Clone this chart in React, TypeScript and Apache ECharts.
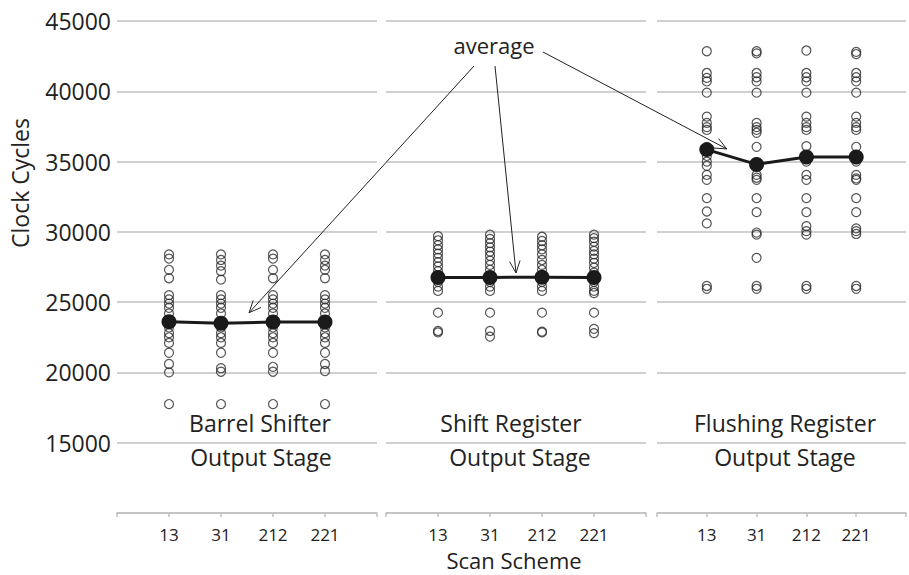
import React, { useEffect, useRef } from "react";
import * as echarts from "echarts";

const schemes = ["13", "31", "212", "221"];
const yTicks = [15000, 20000, 25000, 30000, 35000, 40000, 45000];

const barrel13 = [28400, 28100, 27300, 26700, 25500, 25200, 24900, 24600, 24200, 23200, 22800, 22500, 22100, 21400, 20600, 20000, 17750];
const barrel31 = [28400, 28000, 27600, 27200, 26600, 25500, 25200, 24900, 24600, 24200, 23200, 22800, 22500, 22100, 21400, 20300, 20050, 17750];
const barrel212 = [28400, 28100, 27300, 26700, 25500, 25200, 24900, 24600, 24200, 23200, 22800, 22500, 22100, 21400, 20400, 20050, 17750];
const barrel221 = [28400, 28000, 27600, 27300, 26700, 25500, 25200, 24900, 24600, 24200, 23200, 22800, 22500, 22100, 21400, 20600, 20100, 17750];
const barrelAvg = [23600, 23500, 23580, 23580];

const shift13 = [29700, 29400, 29050, 28750, 28450, 28150, 27850, 27550, 27200, 26450, 26100, 25800, 24250, 22950, 22850];
const shift31 = [29800, 29500, 29200, 28900, 28600, 28300, 27950, 27650, 27300, 26450, 26100, 25800, 24250, 22950, 22550];
const shift212 = [29650, 29350, 29050, 28750, 28400, 28000, 27650, 27300, 26450, 26100, 25800, 24250, 22900, 22850];
const shift221 = [29800, 29550, 29300, 28950, 28650, 28400, 28100, 27800, 27450, 27100, 26450, 26100, 25800, 25650, 24250, 23100, 22800];
const shiftAvg = [26750, 26760, 26770, 26750];

const flush13 = [42850, 41300, 40950, 40700, 39900, 38200, 37750, 37450, 37250, 35400, 35000, 34700, 34050, 33700, 32400, 31450, 30600, 26150, 25950];
const flush31 = [42850, 42700, 41300, 41000, 40700, 39900, 37750, 37450, 37250, 37050, 36050, 34050, 33850, 33700, 32400, 31400, 29950, 29800, 28150, 26150, 25950];
const flush212 = [42900, 41300, 41000, 40700, 39900, 38200, 37750, 37450, 37250, 36100, 35000, 34050, 33700, 32400, 31400, 30400, 30050, 29800, 26150, 25950];
const flush221 = [42800, 42650, 41300, 41000, 40700, 39900, 38200, 37750, 37450, 37250, 36050, 35000, 34050, 33800, 33700, 32400, 31400, 30250, 30050, 29850, 26150, 25950];
const flushAvg = [35850, 34800, 35330, 35330];

const panels = [
  { title: "Barrel Shifter", sub: "Output Stage", cols: [barrel13, barrel31, barrel212, barrel221], avg: barrelAvg },
  { title: "Shift Register", sub: "Output Stage", cols: [shift13, shift31, shift212, shift221], avg: shiftAvg },
  { title: "Flushing Register", sub: "Output Stage", cols: [flush13, flush31, flush212, flush221], avg: flushAvg },
];

const FONT = "'Open Sans', sans-serif";
const TEXT = "#222222";
const GRIDC = "#c0c0c0";

export default function App() {
  const ref = useRef<HTMLDivElement>(null);
  useEffect(() => {
    if (!ref.current) return;
    const chart = echarts.init(ref.current, null, { renderer: "svg" });
    const lefts = [117, 386, 657];
    const grids = lefts.map((l) => ({ left: l, width: 260, top: 21, height: 492 }));
    const xAxes = grids.map((_, i) => ({
      type: "value",
      gridIndex: i,
      min: 0,
      max: 5,
      interval: 1,
      axisLine: { show: true, lineStyle: { color: GRIDC, width: 1.5 } },
      axisTick: { show: true, length: 4, lineStyle: { color: GRIDC, width: 1.5 } },
      splitLine: { show: false },
      axisLabel: {
        show: true,
        margin: 13,
        fontSize: 17,
        fontFamily: FONT,
        color: TEXT,
        formatter: (v: number) => (v >= 1 && v <= 4 ? schemes[v - 1] : ""),
      },
    }));
    const yAxes = grids.map((_, i) => ({
      type: "value",
      gridIndex: i,
      min: 10000,
      max: 45000,
      interval: 5000,
      axisLine: { show: false },
      axisTick: { show: false },
      splitLine: { show: true, lineStyle: { color: GRIDC, width: 1.5 } },
      axisLabel: {
        show: i === 0,
        margin: 6,
        fontSize: 23,
        fontFamily: FONT,
        color: TEXT,
        formatter: (v: number) => (yTicks.includes(v) ? String(v) : ""),
      },
    }));
    const series: any[] = [];
    panels.forEach((p, i) => {
      const pts: number[][] = [];
      p.cols.forEach((col, c) => col.forEach((v) => pts.push([c + 1, v])));
      series.push({
        type: "scatter",
        xAxisIndex: i,
        yAxisIndex: i,
        data: pts,
        symbol: "circle",
        symbolSize: 9,
        itemStyle: { color: "rgba(255,255,255,0)", borderColor: "#2a2a2a", borderWidth: 1.2 },
        z: 2,
      });
      series.push({
        type: "line",
        xAxisIndex: i,
        yAxisIndex: i,
        data: p.avg.map((v, c) => [c + 1, v]),
        symbol: "circle",
        symbolSize: 15,
        lineStyle: { color: "#1a1a1a", width: 3 },
        itemStyle: { color: "#1a1a1a" },
        z: 3,
      });
    });
    chart.setOption({
      animation: false,
      grid: grids,
      xAxis: xAxes,
      yAxis: yAxes,
      series,
    });

    const labelY1 = 423;
    const labelY2 = 457;
    const labelX1 = [260, 511, 785];
    const labelX2 = [261, 520, 785];
    const texts: any[] = [];
    const mkText = (x: number, y: number, t: string, size: number, rot = 0) => ({
      type: "text",
      x,
      y,
      rotation: rot,
      z: 10,
      style: { text: t, fontSize: size, fontFamily: FONT, fill: TEXT, align: "center", verticalAlign: "middle" },
    });
    panels.forEach((p, i) => {
      texts.push(mkText(labelX1[i], labelY1, p.title, 23));
      texts.push(mkText(labelX2[i], labelY2, p.sub, 23));
    });
    texts.push(mkText(20, 183, "Clock Cycles", 23, Math.PI / 2));
    texts.push(mkText(514, 560, "Scan Scheme", 22));
    texts.push(mkText(494, 45, "average", 22));

    // arrows from the "average" label to the mean lines
    const arrows = [
      { from: [474, 66], grid: 0, to: [2.54, 24250] },
      { from: [495, 66], grid: 1, to: [2.5, 27080] },
      { from: [543, 52], grid: 2, to: [1.4, 35900] },
    ];
    arrows.forEach((a) => {
      const e = chart.convertToPixel({ gridIndex: a.grid }, a.to) as number[];
      const s = a.from;
      const dx = e[0] - s[0];
      const dy = e[1] - s[1];
      const len = Math.sqrt(dx * dx + dy * dy);
      const ux = dx / len;
      const uy = dy / len;
      const L = 13;
      const th = (24 * Math.PI) / 180;
      const rot = (ang: number) => [
        e[0] - L * (ux * Math.cos(ang) - uy * Math.sin(ang)),
        e[1] - L * (ux * Math.sin(ang) + uy * Math.cos(ang)),
      ];
      texts.push({
        type: "line",
        z: 10,
        shape: { x1: s[0], y1: s[1], x2: e[0], y2: e[1] },
        style: { stroke: "#222", lineWidth: 1 },
      });
      texts.push({
        type: "polyline",
        z: 10,
        shape: { points: [rot(th), e, rot(-th)] },
        style: { stroke: "#222", lineWidth: 1, fill: null },
      });
    });
    chart.setOption({ graphic: texts });
    return () => chart.dispose();
  }, []);
  return (
    <div
      ref={ref}
      style={{ position: "absolute", left: 0, top: 0, width: 909, height: 575, background: "#fff" }}
    />
  );
}
